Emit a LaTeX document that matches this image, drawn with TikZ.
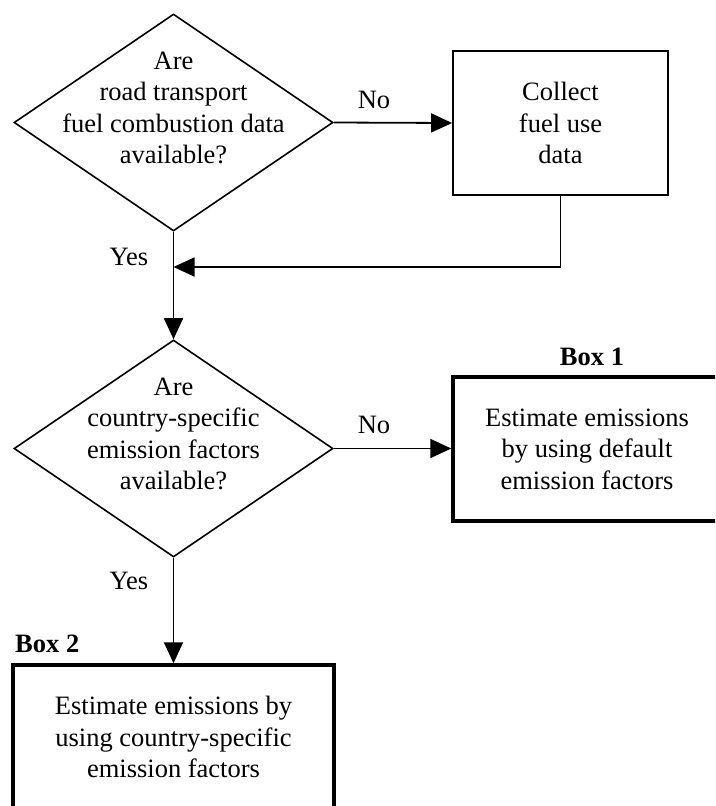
\documentclass[tikz,border=0pt]{standalone}
\usepackage{fontspec}
\setmainfont{Liberation Serif}
\usetikzlibrary{shapes.geometric,arrows.meta}

\begin{document}
\begin{tikzpicture}[x=1pt,y=-1pt,
  every node/.style={font=\fontsize{26.5}{31.5}\selectfont},
  thin line/.style={line width=1.8pt},
  decision/.style={draw,line width=1.6pt,diamond,inner sep=0pt,
    minimum width=319pt,minimum height=217pt},
  question/.style={align=center,inner sep=0pt},
  process/.style={draw,thin line,rectangle,align=center,inner sep=0pt,
    minimum width=215pt,minimum height=144pt},
  outcome/.style={draw,line width=3.5pt,rectangle,align=center,inner sep=0pt,
    minimum height=144pt},
  boxtag/.style={font=\fontsize{26.5}{31.5}\selectfont\bfseries,inner sep=0pt},
  branch/.style={inner sep=0pt},
  flow/.style={thin line,-{Triangle[length=21pt,width=19pt]}}
]
\useasboundingbox (0,0) rectangle (715,806);
\clip (0,0) rectangle (715,806);
\fill[white] (0,0) rectangle (715,806);

% decisions
\node[decision] (d1) at (173.5,122.5) {};
\node[question] (q1) at (173.5,108) {Are\\road transport\\fuel combustion data\\available?};
\node[decision] (d2) at (173.5,448.5) {};
\node[question] (q2) at (173.5,434) {Are\\country-specific\\emission factors\\available?};

% process and outcome boxes
\node[process] (collect) at (560.5,123) {Collect\\fuel use\\data};
\node[outcome,minimum width=268pt] (box1) at (587,449) {Estimate emissions\\by using default\\emission factors};
\node[outcome,minimum width=321pt] (box2) at (173.5,737) {Estimate emissions by\\using country-specific\\emission factors};

% box tags
\node[boxtag] (tag1) at (592,357) {Box 1};
\node[boxtag,anchor=west] (tag2) at (15,644) {Box 2};

% branch labels
\node[branch] (no1) at (374,100) {No};
\node[branch] (yes1) at (129,257) {Yes};
\node[branch] (no2) at (374,425) {No};
\node[branch] (yes2) at (129,581) {Yes};

% connectors
\coordinate (join) at (173.5,267);
\draw[flow] (d1.east) -- (collect.west);
\draw[flow] (collect.south) |- (join);
\draw[flow] (d1.south) -- (d2.north);
\draw[flow] (d2.east) -- (d2.east -| box1.west);
\draw[flow] (d2.south) -- (box2.north);
\end{tikzpicture}
\end{document}
